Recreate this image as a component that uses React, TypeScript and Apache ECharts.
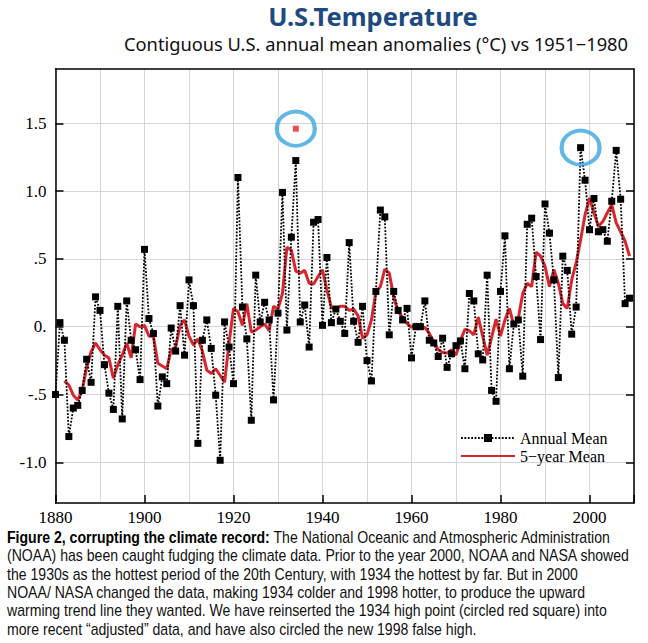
import React, { useEffect, useRef } from "react";
import * as echarts from "echarts";

const startYear = 1880;
const annualMean = [
  -0.50, 0.03, -0.10, -0.81, -0.60, -0.58, -0.47, -0.24, -0.41, 0.22,
  0.12, -0.28, -0.49, -0.61, 0.15, -0.68, 0.19, -0.10, -0.17, -0.39,
  0.57, 0.06, -0.05, -0.585, -0.37, -0.42, -0.01, -0.18, 0.155, -0.21,
  0.345, 0.155, -0.86, -0.10, 0.05, -0.16, -0.505, -0.985, 0.035, -0.15,
  -0.42, 1.10, 0.145, -0.09, -0.69, 0.38, 0.035, 0.18, 0.05, -0.54,
  0.10, 0.99, -0.025, 0.66, 1.225, 0.035, 0.16, -0.15, 0.77, 0.79,
  0.01, 0.51, 0.03, 0.13, 0.04, -0.05, 0.62, 0.04, -0.115, 0.15,
  -0.25, -0.40, 0.26, 0.86, 0.81, -0.06, 0.26, 0.12, 0.05, 0.135,
  -0.23, 0.0, 0.0, 0.19, -0.10, -0.12, -0.22, -0.085, -0.30, -0.20,
  -0.14, -0.105, -0.31, 0.245, 0.19, -0.20, -0.245, 0.38, -0.47, -0.55,
  0.26, 0.67, -0.31, 0.02, 0.05, -0.365, 0.755, 0.80, 0.37, -0.095,
  0.905, 0.69, 0.345, -0.375, 0.52, 0.415, -0.055, 0.145, 1.32, 1.08,
  0.715, 0.945, 0.70, 0.715, 0.63, 0.925, 1.30, 0.94, 0.17, 0.21,
];

const meanStartYear = 1882;
const fiveYearMean = [
  -0.40, -0.43, -0.505, -0.54, -0.47, -0.30, -0.185, -0.12,
  -0.17, -0.21, -0.23, -0.38, -0.28, -0.21, -0.12, -0.23, 0.02, 0.00,
  0.01, -0.07, -0.07, -0.27, -0.29, -0.31, -0.17, -0.15, 0.01, 0.05,
  -0.07, -0.135, -0.09, -0.18, -0.32, -0.345, -0.31, -0.36, -0.41, -0.12,
  0.135, 0.11, 0.01, 0.17, -0.04, -0.025, 0.00, 0.02, -0.03, 0.15,
  0.13, 0.245, 0.585, 0.565, 0.41, 0.395, 0.415, 0.32, 0.315, 0.37,
  0.42, 0.27, 0.14, 0.13, 0.15, 0.15, 0.12, 0.13, 0.08, -0.085,
  -0.06, 0.05, 0.26, 0.295, 0.425, 0.395, 0.22, 0.11, 0.07, 0.025,
  -0.005, 0.02, -0.01, -0.005, -0.05, -0.11, -0.17, -0.19, -0.195, -0.17,
  -0.21, -0.10, -0.02, -0.03, -0.06, 0.07, -0.07, -0.21, -0.08, 0.055,
  -0.07, 0.05, 0.135, 0.01, 0.06, 0.245, 0.32, 0.295, 0.55, 0.52,
  0.445, 0.295, 0.42, 0.32, 0.17, 0.135, 0.345, 0.47, 0.64, 0.825,
  0.95, 0.84, 0.74, 0.775, 0.84, 0.90, 0.765, 0.70, 0.63, 0.52,
];

const reinsertedYear = [1934];
const reinsertedValue = [1.46];
const circledYears = [1934, 1998];
const circledValues = [1.46, 1.32];

const yTickValues = [-1, -0.5, 0, 0.5, 1, 1.5];
const yTickLabels = ["-1.0", "-.5", "0.", ".5", "1.0", "1.5"];
const xLabelYears = [1880, 1900, 1920, 1940, 1960, 1980, 2000];

const titleText = "U.S.Temperature";
const subtitleText = "Contiguous U.S. annual mean anomalies (°C) vs 1951\u22121980";
const captionLines = [
  "{b|Figure 2, corrupting the climate record:} The National Oceanic and Atmospheric Administration",
  "(NOAA) has been caught fudging the climate data. Prior to the year 2000, NOAA and NASA showed",
  "the 1930s as the hottest period of the 20th Century, with 1934 the hottest by far. But in 2000",
  "NOAA/ NASA changed the data, making 1934 colder and 1998 hotter, to produce the upward",
  "warming trend line they wanted. We have reinserted the 1934 high point (circled red square) into",
  "more recent \u201cadjusted\u201d data, and have also circled the new 1998 false high.",
];

const SERIF = "'Liberation Serif', 'Times New Roman', serif";
const SANS = "'Liberation Sans', Arial, sans-serif";

export default function App() {
  const ref = useRef<HTMLDivElement>(null);
  useEffect(() => {
    if (!ref.current) return;
    const chart = echarts.init(ref.current, undefined, { renderer: "svg" });
    const annualData = annualMean.map((v, i) => [startYear + i, v]);
    const meanData = fiveYearMean.map((v, i) => [meanStartYear + i, v]);
    const redData = reinsertedYear.map((y, i) => [y, reinsertedValue[i]]);
    const circData = circledYears.map((y, i) => [y, circledValues[i]]);
    const axisLineStyle = { color: "#000", width: 1.5 };
    const gridLine = { color: "#d6d6d6", width: 1 };
    const legendBase = {
      orient: "vertical", left: 455,
      itemWidth: 54, itemHeight: 10, itemGap: 0,
      textStyle: { color: "#000", fontFamily: SERIF, fontSize: 16, lineHeight: 15 },
    };

    chart.setOption({
      animation: false,
      backgroundColor: "#fff",
      grid: { left: 55.5, right: 14, top: 69, bottom: 140, containLabel: false },
      xAxis: [
        {
          type: "value", min: 1880, max: 2010, interval: 10, position: "bottom",
          axisLine: { show: true, onZero: false, lineStyle: axisLineStyle },
          axisTick: { show: false },
          splitLine: { show: true, lineStyle: gridLine },
          axisLabel: {
            color: "#000", fontFamily: SERIF, fontSize: 17, margin: 6,
            formatter: (v: number) => (xLabelYears.indexOf(v) >= 0 ? String(v) : ""),
          },
        },
        {
          type: "value", min: 1880, max: 2010, interval: 20, position: "bottom",
          axisLine: { show: false, onZero: false },
          axisTick: { show: true, inside: true, length: 8, lineStyle: axisLineStyle },
          axisLabel: { show: false }, splitLine: { show: false },
        },
        {
          type: "value", min: 1880, max: 2010, position: "top",
          axisLine: { show: true, onZero: false, lineStyle: axisLineStyle },
          axisTick: { show: false }, axisLabel: { show: false }, splitLine: { show: false },
        },
      ],
      yAxis: [
        {
          type: "value", min: -1.3, max: 1.9, position: "left",
          axisLine: { show: true, onZero: false, lineStyle: axisLineStyle },
          axisTick: { show: true, inside: true, length: 8, lineStyle: axisLineStyle, customValues: yTickValues },
          splitLine: { show: true, lineStyle: gridLine },
          axisLabel: {
            customValues: yTickValues, color: "#000", fontFamily: SERIF, fontSize: 17, margin: 9,
            formatter: (v: number) => {
              const i = yTickValues.findIndex((t) => Math.abs(t - v) < 1e-6);
              return i >= 0 ? yTickLabels[i] : "";
            },
          },
        },
        {
          type: "value", min: -1.3, max: 1.9, position: "right",
          axisLine: { show: true, onZero: false, lineStyle: axisLineStyle },
          axisTick: { show: true, inside: true, length: 8, lineStyle: axisLineStyle, customValues: yTickValues },
          axisLabel: { show: false }, splitLine: { show: false },
        },
      ],
      legend: [
        { ...legendBase, top: 425, data: [{ name: "Annual Mean" }] },
        {
          ...legendBase, top: 443,
          data: [{ name: "5\u2212year Mean", itemStyle: { color: "rgba(0,0,0,0)", borderColor: "rgba(0,0,0,0)", borderWidth: 0 } }],
        },
      ],
      graphic: [
        {
          type: "text", x: 373, y: 16,
          style: {
            text: titleText, fill: "#1d4a7f", align: "center", verticalAlign: "middle",
            font: "bold 25.5px 'Noto Sans', sans-serif",
          },
        },
        {
          type: "text", x: 376, y: 43,
          style: {
            text: subtitleText, fill: "#111", align: "center", verticalAlign: "middle",
            font: "18.3px 'Noto Sans', sans-serif",
          },
        },
        ...captionLines.map((line, i) => ({
          type: "text",
          x: 7,
          y: 537 + i * 18.4,
          scaleX: 0.88,
          style: {
            text: line,
            fill: "#111",
            font: "16px " + SANS,
            verticalAlign: "middle",
            rich: { b: { fontWeight: "bold", fontFamily: SANS, fontSize: 16, fill: "#000" } },
          },
        })),
      ],
      series: [
        {
          name: "5\u2212year Mean", type: "line", data: meanData, symbol: "none", z: 2,
          lineStyle: { color: "#d9262c", width: 3 }, itemStyle: { color: "#d9262c" },
        },
        {
          name: "Annual Mean", type: "line", data: annualData, symbol: "rect", symbolSize: 7, z: 3,
          itemStyle: { color: "#000" },
          lineStyle: { color: "#000", width: 1.8, type: [1.8, 1.6] },
        },
        {
          name: "1934 original", type: "scatter", data: redData, symbol: "rect", symbolSize: 6, z: 5,
          itemStyle: { color: "#e3262b" },
        },
        {
          name: "circled", type: "scatter", data: circData, symbol: "circle", symbolSize: [38, 34], z: 5,
          itemStyle: { color: "rgba(0,0,0,0)", borderColor: "#3aa6de", borderWidth: 4 },
        },
      ],
    });
    return () => chart.dispose();
  }, []);
  return <div ref={ref} style={{ position: "absolute", left: 0, top: 0, width: 648, height: 643 }} />;
}
